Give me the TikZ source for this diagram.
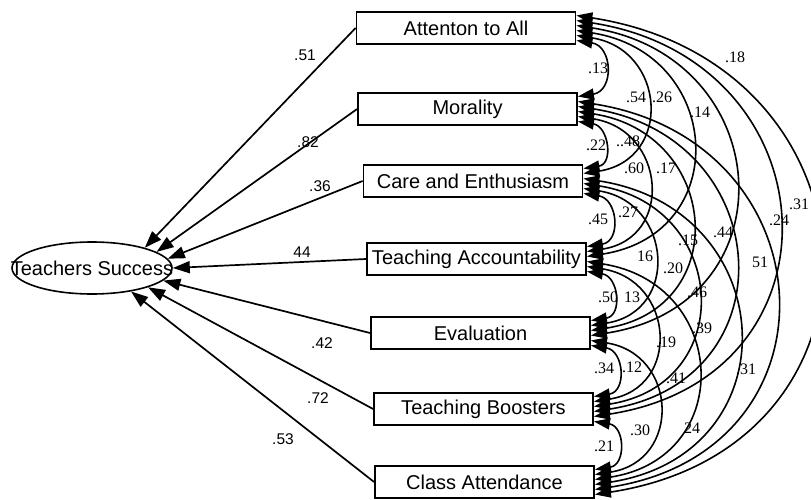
\documentclass[tikz,border=0pt]{standalone}
\usepackage{fontspec}
\setmainfont{Liberation Sans}
\newfontfamily\serifnum{Liberation Serif}
\usetikzlibrary{arrows.meta,shapes.geometric,calc}
\begin{document}
\begin{tikzpicture}[x=1pt,y=1pt,
  box/.style={draw,line width=1.8pt,minimum width=219pt,minimum height=32pt,inner sep=0pt,font=\fontsize{20}{22}\selectfont},
  latent/.style={draw,ellipse,line width=1.6pt,minimum width=160pt,minimum height=52pt,inner sep=0pt,font=\fontsize{20}{22}\selectfont},
  pathline/.style={line width=1.7pt,-{Triangle[length=17pt,width=12pt]}},
  corr/.style={line width=1.6pt,{Triangle[length=16pt,width=11pt]}-{Triangle[length=16pt,width=11pt]}},
  plab/.style={font=\fontsize{15.5}{17}\selectfont,inner sep=0pt},
  clab/.style={font=\serifnum\fontsize{16}{18}\selectfont,inner sep=0pt}]
\useasboundingbox (0,0) rectangle (811,-500);
\fill[white] (0,0) rectangle (811,-500);

\node[latent] (ts) at (92,-268) {\makebox[0pt]{Teachers Success}};

\node[box] (b1) at (466,-28) {Attenton to All};
\node[box] (b2) at (467.5,-109) {Morality};
\node[box] (b3) at (473,-181) {Care and Enthusiasm};
\node[box] (b4) at (476.5,-259) {Teaching Accountability};
\node[box] (b5) at (480.5,-333) {Evaluation};
\node[box] (b6) at (483.5,-409) {Teaching Boosters};
\node[box] (b7) at (484.5,-482) {Class Attendance};

% regression paths
\draw[pathline] (b1.west) -- (ts.21);
\draw[pathline] (b2.west) -- (ts.14);
\draw[pathline] (b3.west) -- (ts.7);
\draw[pathline] (b4.west) -- (ts.0);
\draw[pathline] (b5.west) -- (ts.-10);
\draw[pathline] (b6.west) -- (ts.-19);
\draw[pathline] (b7.west) -- (ts.-31);

\node[plab] (p1) at (305,-55) {.51};
\node[plab] (p2) at (308,-142) {.82};
\node[plab] (p3) at (320,-186) {.36};
\node[plab] (p4) at (302,-252) {44};
\node[plab] (p5) at (322,-343) {.42};
\node[plab] (p6) at (318,-398) {.72};
\node[plab] (p7) at (283,-439) {.53};

% correlation end points
\foreach \i in {1,...,7}{
  \foreach \j in {1,...,7}{
    \ifnum\i=\j\relax\else
      \ifnum\j<\i
        \pgfmathtruncatemacro\k{\i-\j-1}
      \else
        \pgfmathtruncatemacro\k{\i-1+7-\j}
      \fi
      \pgfmathsetmacro\off{12.5-5*\k}
      \coordinate (e\i-\j) at ([yshift=\off pt]b\i.east);
    \fi
  }
}

% correlation arcs
\foreach \i/\j in {1/2,1/3,1/4,1/5,1/6,1/7,2/3,2/4,2/5,2/6,2/7,3/4,3/5,3/6,3/7,4/5,4/6,4/7,5/6,5/7,6/7}{
  \draw[corr] let \p1=(e\i-\j), \p2=(e\j-\i), \n1={0.65*(\y1-\y2)}, \n2={0.1*(\y1-\y2)} in
    (e\i-\j) .. controls +(\n1,-\n2) and +(\n1,\n2) .. (e\j-\i);
}

% correlation labels
\node[clab] (c1) at (598,-68) {.13};
\node[clab] (c2) at (636,-97) {.54};
\node[clab] (c3) at (662,-97) {.26};
\node[clab] (c4) at (700,-112) {.14};
\node[clab] (c5) at (735,-57) {.18};
\node[clab] (c6) at (596,-145) {.22};
\node[clab] (c7) at (628,-141) {..48};
\node[clab] (c8) at (634,-168) {.60};
\node[clab] (c9) at (666,-168) {.17};
\node[clab] (c10) at (598,-219) {.45};
\node[clab] (c11) at (628,-212) {.27};
\node[clab] (c12) at (645,-256) {16};
\node[clab] (c13) at (688,-240) {.15};
\node[clab] (c14) at (673,-268) {.20};
\node[clab] (c15) at (697,-292) {.46};
\node[clab] (c16) at (723,-232) {.44};
\node[clab] (c17) at (760,-262) {51};
\node[clab] (c18) at (779,-220) {.24};
\node[clab] (c19) at (799,-204) {.31};
\node[clab] (c20) at (608,-297) {.50};
\node[clab] (c21) at (632,-297) {13};
\node[clab] (c22) at (702,-328) {.39};
\node[clab] (c23) at (666,-342) {.19};
\node[clab] (c24) at (604,-368) {.34};
\node[clab] (c25) at (632,-367) {.12};
\node[clab] (c26) at (676,-378) {.41};
\node[clab] (c27) at (746,-369) {.31};
\node[clab] (c28) at (640,-430) {.30};
\node[clab] (c29) at (692,-428) {24};
\node[clab] (c30) at (604,-446) {.21};
\end{tikzpicture}
\end{document}
